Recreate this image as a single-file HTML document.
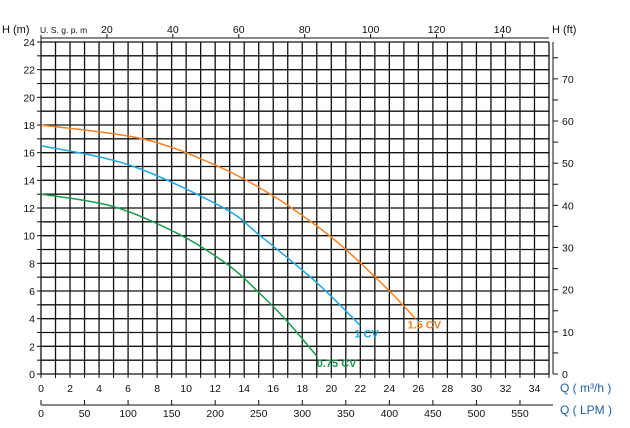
<!DOCTYPE html>
<html><head><meta charset="utf-8"><style>
html,body{margin:0;padding:0;background:#fff;}
svg text{font-family:"Liberation Sans",sans-serif;}
</style></head><body>
<svg id="chart" width="630" height="423" viewBox="0 0 630 423" xmlns="http://www.w3.org/2000/svg">
<g id="grid"></g>
<g id="axes"></g>
<g id="curves"></g>
</svg>
<script>
const qTicks=[0,2,4,6,8,10,12,14,16,18,20,22,24,26,28,30,32,34];
const hTicks=[0,2,4,6,8,10,12,14,16,18,20,22,24];
const gpmTicks=[20,40,60,80,100,120,140];
const lpmTicks=[0,50,100,150,200,250,300,350,400,450,500,550];
const ftTicks=[0,10,20,30,40,50,60,70];
const seriesNames=["1.5 CV","1 CV","0.75 CV"];
const seriesColors=["#f7821e","#1fa8e6","#1a9a4a"];
const q15=[0,7,12.1,15.8,18.8,21,24,25.8];
const h15=[18,17,15.06,13,10.85,9,6,4];
const q10=[0,6.1,12.5,15.1,19,22];
const h10=[16.5,15.1,12.05,10,6.6,3.5];
const q075=[0,5,9.7,13,14.9,16.8,19];
const h075=[13,12.1,10,7.8,6,4,1.3];
const qs=[q15,q10,q075], hs=[h15,h10,h075];

const X0=41,X1=549,Y0=374,Y1=42,QMAX=35,HMAX=24;
const xs=q=>X0+q*(X1-X0)/QMAX;
const ys=h=>Y0-h*(Y0-Y1)/HMAX;
const NS="http://www.w3.org/2000/svg";
function mk(tag,attrs,parent,text){const e=document.createElementNS(NS,tag);for(const k in attrs)e.setAttribute(k,attrs[k]);if(text!==undefined)e.textContent=text;parent.appendChild(e);return e;}
const grid=document.getElementById('grid'),axes=document.getElementById('axes'),curves=document.getElementById('curves');
for(let i=0;i<=QMAX;i++){const l=mk('line',{x1:xs(i),x2:xs(i),y1:Y1,y2:Y0,stroke:'#111','stroke-width':1.3},grid);

}
for(let i=0;i<=HMAX;i++){const l=mk('line',{x1:X0,x2:X1,y1:ys(i),y2:ys(i),stroke:'#111','stroke-width':1.3},grid);

}
for(let i=0;i<=HMAX;i++){mk('line',{x1:X0-4,x2:X0,y1:ys(i),y2:ys(i),stroke:'#111'},axes);}
hTicks.forEach(h=>{const t=mk('text',{x:X0-6,y:ys(h)+4,'font-size':10.5,'text-anchor':'end',fill:'#111'},axes,h);

});
for(let i=0;i<=QMAX;i++){mk('line',{x1:xs(i),x2:xs(i),y1:Y0,y2:Y0+4,stroke:'#111'},axes);}
qTicks.forEach(q=>{const t=mk('text',{x:xs(q),y:392,'font-size':10.5,'text-anchor':'middle',fill:'#111'},axes,q);

});
mk('line',{x1:X0,x2:553,y1:405,y2:405,stroke:'#111'},axes);
for(let v=0;v<=580;v+=50){mk('line',{x1:xs(v*0.06),x2:xs(v*0.06),y1:400,y2:405,stroke:'#111'},axes);}
lpmTicks.forEach(v=>{const t=mk('text',{x:xs(v*0.06),y:417,'font-size':10.5,'text-anchor':'middle',fill:'#111'},axes,v);

});
mk('line',{x1:X0,x2:X1,y1:38,y2:38,stroke:'#111'},axes);
mk('line',{x1:X0,x2:X0,y1:35,y2:42,stroke:'#111'},axes);
gpmTicks.forEach(g=>{const x=xs(g*0.2271);mk('line',{x1:x,x2:x,y1:34,y2:38,stroke:'#111'},axes);
const t=mk('text',{x:x,y:33,'font-size':10.5,'text-anchor':'middle',fill:'#111'},axes,g);

});
mk('line',{x1:553,x2:553,y1:Y1,y2:Y0,stroke:'#111'},axes);
for(let f=0;f<=75;f+=5){const y=ys(f*0.3048);mk('line',{x1:553,x2:558,y1:y,y2:y,stroke:'#111'},axes);}
ftTicks.forEach(f=>{const t=mk('text',{x:562,y:ys(f*0.3048)+4,'font-size':10.5,fill:'#111'},axes,f);

});
[[2,33,'H (m)',11,'#111','y-axis-title'],[40,33,'U. S. g. p. m',8.5,'#111','top-axis-title'],[552,33,'H (ft)',11,'#111','right-axis-title'],
 [560,392,'Q ( m³/h )',12,'#1f5fa8','x-axis-title-m3h'],[560,414,'Q ( LPM )',12,'#1f5fa8','x-axis-title-lpm']].forEach(a=>{
 const t=mk('text',{x:a[0],y:a[1],'font-size':a[3],fill:a[4]},axes,a[2]);
 
 });
function pathFrom(q,h){const p=q.map((v,i)=>[xs(v),ys(h[i])]);let d=`M${p[0][0]},${p[0][1]}`;
for(let i=0;i<p.length-1;i++){const p0=p[i-1]||p[i],p1=p[i],p2=p[i+1],p3=p[i+2]||p2;
d+=` C${p1[0]+(p2[0]-p0[0])/6},${p1[1]+(p2[1]-p0[1])/6} ${p2[0]-(p3[0]-p1[0])/6},${p2[1]-(p3[1]-p1[1])/6} ${p2[0]},${p2[1]}`;}return d;}
const labelOff=[[-8,10],[-6,12],[0,11]];
seriesNames.forEach((n,i)=>{const q=qs[i],h=hs[i];
const p=mk('path',{d:pathFrom(q,h),fill:'none',stroke:seriesColors[i],'stroke-width':1.5},curves);


const last=q.length-1;
const t=mk('text',{x:xs(q[last])+labelOff[i][0],y:ys(h[last])+labelOff[i][1],'font-size':11,'font-weight':'bold',fill:seriesColors[i]},curves,n);

});
</script>
</body></html>
